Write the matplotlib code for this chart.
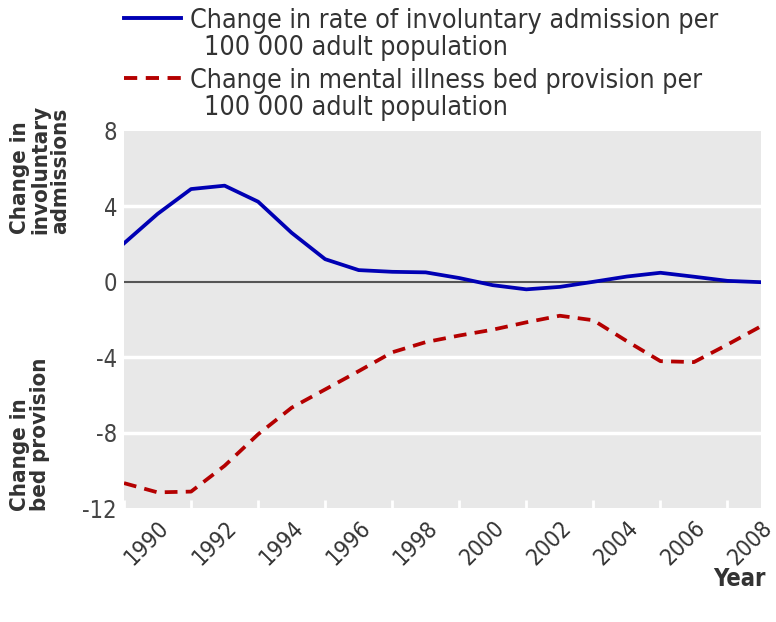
import matplotlib
matplotlib.use("Agg")
import matplotlib.pyplot as plt
from matplotlib.lines import Line2D
import matplotlib.transforms as mtransforms

years = list(range(1989, 2009))
admissions = [2.04, 3.6, 4.92, 5.1, 4.25, 2.6, 1.2, 0.62, 0.53, 0.5, 0.2, -0.18, -0.4,
              -0.27, 0.0, 0.28, 0.48, 0.27, 0.05, -0.02]
beds = [-10.68, -11.17, -11.13, -9.76, -8.09, -6.68, -5.71, -4.74, -3.74, -3.2, -2.85,
        -2.54, -2.15, -1.8, -2.04, -3.15, -4.21, -4.26, -3.33, -2.36]
xticks = list(range(1990, 2009, 2))
yticks = [-12, -8, -4, 0, 4, 8]
label_adm = ["Change in rate of involuntary admission per", "100 000 adult population"]
label_bed = ["Change in mental illness bed provision per", "100 000 adult population"]

plt.rcParams['font.family'] = ['DejaVu Sans']
plt.rcParams['font.stretch'] = 'condensed'

W, H = 776, 622
fig = plt.figure(figsize=(W/100, H/100), dpi=100)
ax = fig.add_axes([124/W, 1-508/H, (761-124)/W, (508-131)/H])
ax.set_facecolor('#e8e8e8')
for s in ax.spines.values():
    s.set_visible(False)

for y in [-8, -4, 4]:
    ax.axhline(y, color='white', lw=2.5, zorder=1)
ax.axhline(0, color='#555555', lw=1.5, zorder=2)

ax.plot(years, admissions, color='#0000b4', lw=2.7, zorder=3, solid_joinstyle='round')
ax.plot(years, beds, color='#b40000', lw=2.7, ls=(0, (3.4, 2.2)), zorder=3)

ax.set_xlim(1989, 2008)
ax.set_ylim(-12, 8)
ax.set_yticks(yticks)
ax.set_yticklabels([str(v) for v in yticks], fontsize=17, color='#444444')
ax.set_xticks(xticks)
ax.set_xticklabels([str(v) for v in xticks], rotation=45, ha='right', rotation_mode='anchor',
                   fontsize=16.5, color='#333333')
offset = mtransforms.ScaledTranslation(8/100, 0, fig.dpi_scale_trans)
for lab in ax.get_xticklabels():
    lab.set_transform(lab.get_transform() + offset)
ax.tick_params(axis='y', length=0, pad=5)
ax.tick_params(axis='x', length=0, pad=6)
ax.set_xticks(years, minor=True)
ax.tick_params(axis='x', which='minor', direction='in', length=6, width=2, color='white')

fig.text(40/W, 1-234/H, "Change in\ninvoluntary\nadmissions", rotation=90, ha='center',
         va='bottom', multialignment='left', fontsize=16, fontweight='bold',
         color='#333333', linespacing=1.0)
fig.text(30/W, 1-511/H, "Change in\nbed provision", rotation=90, ha='center',
         va='bottom', multialignment='left', fontsize=16, fontweight='bold',
         color='#333333', linespacing=1.0)
fig.text(766/W, 1-579/H, "Year", ha='right', va='center', fontsize=17,
         fontweight='bold', color='#333333')

# legend drawn manually (handle aligned with first label line)
for (ypix, lab, col, ls) in [(18, label_adm, '#0000b4', '-'),
                             (78, label_bed, '#b40000', (0, (3.4, 2.2)))]:
    yf = 1 - ypix/H
    fig.add_artist(Line2D([124/W, 181/W], [yf, yf], color=col, lw=2.8, ls=ls,
                          transform=fig.transFigure))
    fig.text(190/W, yf, lab[0], ha='left', va='center_baseline', fontsize=19.3,
             color='#333333')
    fig.text(204/W, 1-(ypix+27)/H, lab[1], ha='left', va='center_baseline', fontsize=19.3,
             color='#333333')

fig.savefig("out.png", dpi=100)
